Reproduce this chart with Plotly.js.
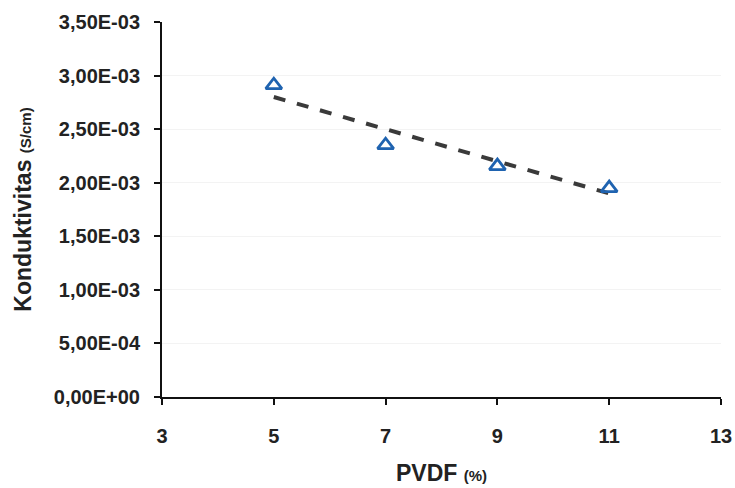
<!DOCTYPE html>
<html>
<head>
<meta charset="utf-8">
<script src="https://cdn.plot.ly/plotly-3.0.1.min.js"></script>
<style>html,body{margin:0;padding:0;background:#fff;}#chart{width:735px;height:488px;}</style>
</head>
<body>
<div id="chart"></div>
<script>
// Data
const pvdf = [5, 7, 9, 11];
const conductivity = [2.91e-3, 2.35e-3, 2.155e-3, 1.95e-3];
const trendX = [5, 11];
const trendY = [2.80e-3, 1.90e-3];
const yTickVals = [0, 0.5e-3, 1.0e-3, 1.5e-3, 2.0e-3, 2.5e-3, 3.0e-3, 3.5e-3];
const yTickText = ["0,00E+00", "5,00E-04", "1,00E-03", "1,50E-03", "2,00E-03", "2,50E-03", "3,00E-03", "3,50E-03"];
const xTickVals = [3, 5, 7, 9, 11, 13];

const font = "Liberation Sans, Arial, sans-serif";

const traces = [
  {
    x: trendX, y: trendY, mode: "lines", type: "scatter",
    line: {color: "#3a3a3a", width: 4, dash: "dash"},
    hoverinfo: "skip", showlegend: false
  },
  {
    x: pvdf, y: conductivity, mode: "markers", type: "scatter",
    marker: {symbol: "triangle-up-open", size: 14, color: "#1f63b0", line: {width: 2.8, color: "#1f63b0"}},
    showlegend: false
  }
];

const layout = {
  width: 735, height: 488,
  margin: {l: 162, r: 14, t: 22, b: 91},
  paper_bgcolor: "#fff", plot_bgcolor: "#fff",
  font: {family: font, color: "#222"},
  xaxis: {
    range: [3, 13], tickvals: xTickVals, ticktext: xTickVals.map(String),
    showline: true, linecolor: "#111", linewidth: 2, mirror: false,
    ticks: "outside", ticklen: 6, tickwidth: 2, tickcolor: "#111",
    ticklabelstandoff: 14,
    showgrid: false, zeroline: false,
    tickfont: {size: 20, family: font, color: "#222", weight: "bold"},
    title: {text: "<b>PVDF</b> <b><span style='font-size:15px'>(%)</span></b>", font: {size: 23, family: font, color: "#222"}, standoff: 19}
  },
  yaxis: {
    range: [0, 3.5e-3], tickvals: yTickVals, ticktext: yTickText,
    showline: true, linecolor: "#111", linewidth: 2,
    ticks: "outside", ticklen: 6, tickwidth: 2, tickcolor: "#111",
    ticklabelstandoff: 10,
    showgrid: true, gridcolor: "#f3f3f3", gridwidth: 1, zeroline: false,
    tickfont: {size: 20, family: font, color: "#222", weight: "bold"},
    title: {text: "<b>Konduktivitas</b> <b><span style='font-size:15px'>(S/cm)</span></b>", font: {size: 23, family: font, color: "#222"}, standoff: 16}
  }
};

Plotly.newPlot("chart", traces, layout, {staticPlot: true, displayModeBar: false});
</script>
</body>
</html>
